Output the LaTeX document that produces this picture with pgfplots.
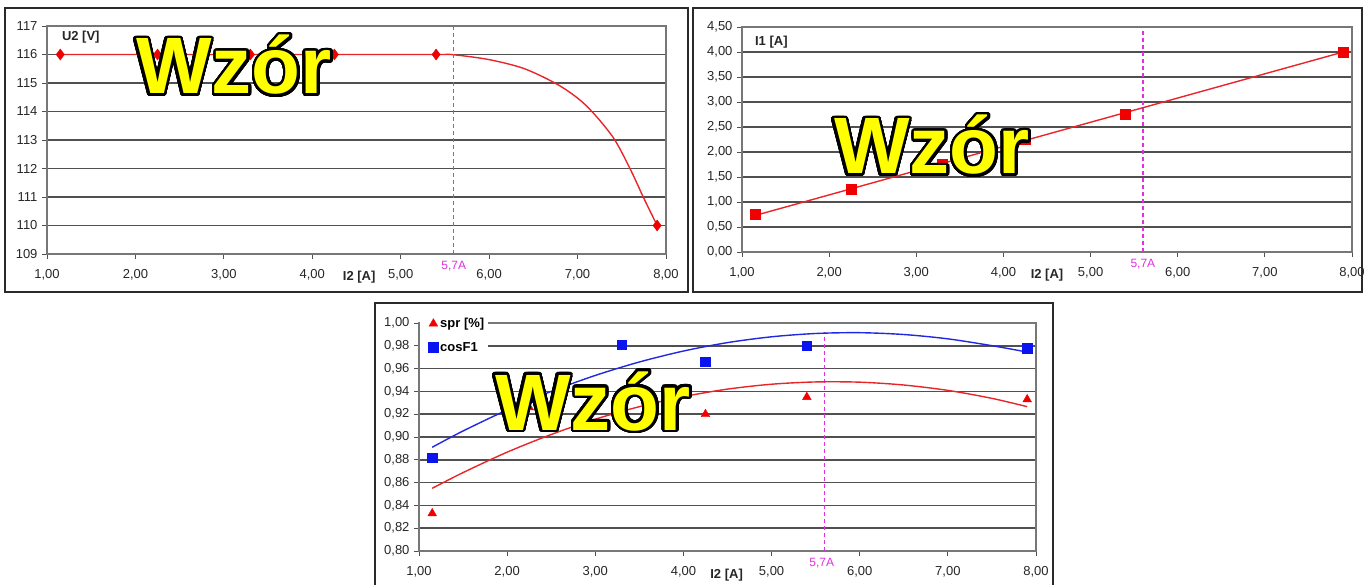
\documentclass[border=0pt]{standalone}
\usepackage{fontspec}
\setmainfont{Liberation Sans}
\usepackage{pgfplots}
\pgfplotsset{compat=1.18}
\usepackage{contour}
\contourlength{2.7pt}
\contournumber{48}
\definecolor{gridc}{HTML}{505050}
\definecolor{axc}{HTML}{777777}
\definecolor{lred}{HTML}{E8262A}
\definecolor{mred}{HTML}{F00000}
\definecolor{mblue}{HTML}{0A14F0}
\definecolor{lblue}{HTML}{2028E0}
\definecolor{mag}{HTML}{E030E0}
\definecolor{wz}{HTML}{FFFF00}
\definecolor{fr}{HTML}{2A2A2A}
\newcommand{\wzor}{{\fontsize{80}{80}\selectfont\bfseries\contour{black}{\textcolor{wz}{Wzór}}}}
\tikzset{
  lab/.style={font=\fontsize{13}{15}\selectfont\bfseries, text=black!85},
  mk/.style={font=\fontsize{12}{14}\selectfont, text=mag},
}
\pgfplotsset{
  mystyle/.style={
    scale only axis, clip=false,
    xmin=1, xmax=8,
    axis line style={draw=axc, line width=1.1pt},
    ymajorgrids, grid style={draw=gridc, line width=1.6pt},
    tick align=outside, xtick pos=bottom, ytick pos=left,
    major tick length=5pt,
    tick style={draw=gridc, line width=0.9pt},
    ticklabel style={font=\fontsize{13}{15}\selectfont, text=black!85},
    xtick={1,2,3,4,5,6,7,8},
    xticklabels={{1,00},{2,00},{3,00},{4,00},{5,00},{6,00},{7,00},{8,00}},
    xticklabel style={yshift=-7pt},
    yticklabel style={xshift=-1pt},
  },
  vline/.style={forget plot, draw=mag, color=mag, line width=1.4pt, dash pattern=on 4pt off 3pt},
}
\begin{document}
\begin{tikzpicture}[x=1pt,y=1pt]
\useasboundingbox (0,0) rectangle (1367,584);
% ---------- chart 1 ----------
\begin{axis}[mystyle, at={(47pt,330pt)}, anchor=south west,
  width=619pt, height=228pt,
  ymin=109, ymax=117, ytick={109,110,111,112,113,114,115,116,117},
  yticklabels={109,110,111,112,113,114,115,116,117}]
\addplot[draw=lred, line width=1.4pt, smooth] coordinates {
 (1.15,116)(2.25,116)(3.3,116)(4.25,116)(5.4,116)(5.6,115.99)(6.0,115.82)(6.4,115.5)
 (6.8,114.9)(7.1,114.2)(7.4,113.1)(7.6,111.95)(7.75,110.95)(7.9,110)};
\addplot[vline] coordinates {(5.6,109)(5.6,117)};
\addplot[only marks, mark=diamond*, mark size=5.5pt, mark options={draw=mred, fill=mred}] coordinates {
 (1.15,116)(2.25,116)(3.3,116)(4.25,116)(5.4,116)(7.9,110)};
\node[lab, anchor=west] at (axis cs:1.13,116.62) {U2 [V]};
\node[lab, anchor=base] at (axis cs:4.53,109) [yshift=-27pt] {I2 [A]};
\node[mk, anchor=north] at (axis cs:5.6,109) [yshift=-4pt] {5,7A};
\end{axis}
% ---------- chart 2 ----------
\begin{axis}[mystyle, at={(742pt,332pt)}, anchor=south west,
  width=610pt, height=225pt,
  ymin=0, ymax=4.5, ytick={0,0.5,1,1.5,2,2.5,3,3.5,4,4.5},
  yticklabels={{0,00},{0,50},{1,00},{1,50},{2,00},{2,50},{3,00},{3,50},{4,00},{4,50}}]
\addplot[vline] coordinates {(5.6,0)(5.6,4.5)};
\addplot[draw=lred, line width=1.4pt] coordinates {(1.15,0.73)(7.9,4.0)};
\addplot[only marks, mark=square*, mark size=5pt, mark options={draw=mred, fill=mred}] coordinates {
 (1.15,0.75)(2.25,1.25)(3.3,1.75)(4.25,2.25)(5.4,2.75)(7.9,4.0)};
\node[lab, anchor=west] at (axis cs:1.11,4.2) {I1 [A]};
\node[lab, anchor=base] at (axis cs:4.5,0) [yshift=-27pt] {I2 [A]};
\node[mk, anchor=north] at (axis cs:5.6,0) [yshift=-4pt] {5,7A};
\end{axis}
% ---------- chart 3 ----------
\begin{axis}[mystyle, at={(419pt,33pt)}, anchor=south west,
  width=617pt, height=228pt,
  ymin=0.8, ymax=1.0, ytick={0.8,0.82,0.84,0.86,0.88,0.9,0.92,0.94,0.96,0.98,1.0},
  yticklabels={{0,80},{0,82},{0,84},{0,86},{0,88},{0,90},{0,92},{0,94},{0,96},{0,98},{1,00}},
  legend style={at={(rel axis cs:0,1)}, anchor=north west, yshift=9pt, xshift=1pt,
    draw=none, fill=white, font=\fontsize{13}{15}\selectfont\bfseries,
    inner xsep=2pt, inner ysep=2pt, row sep=9pt, cells={anchor=west},
    /tikz/every even column/.append style={column sep=5pt}},
  legend image code/.code={\path (0pt,0pt); \draw[#1] plot coordinates {(11pt,0pt)};}]
\addplot[vline] coordinates {(5.6,0.8)(5.6,0.992)};
\addplot[forget plot, draw=lblue, line width=1.4pt, smooth] coordinates {
 (1.15,0.891)(1.5,0.9053)(2.0,0.9237)(2.5,0.940)(3.0,0.954)(3.5,0.9658)(4.0,0.9754)
 (4.5,0.9828)(5.0,0.9879)(5.5,0.9908)(6.0,0.9915)(6.5,0.9899)(7.0,0.9861)(7.5,0.9801)(7.9,0.9745)};
\addplot[forget plot, draw=lred, line width=1.4pt, smooth] coordinates {
 (1.15,0.855)(1.5,0.8688)(2.0,0.8867)(2.5,0.9022)(3.0,0.9156)(3.5,0.9266)(4.0,0.9354)
 (4.5,0.942)(5.0,0.9463)(5.5,0.9483)(6.0,0.9481)(6.5,0.9456)(7.0,0.9409)(7.5,0.9339)(7.9,0.9266)};
\addplot[only marks, mark=triangle*, mark size=5pt, mark options={draw=mred, fill=mred}] coordinates {
 (1.15,0.833)(2.25,0.926)(3.3,0.930)(4.25,0.920)(5.4,0.935)(7.9,0.933)};
\addlegendentry{spr [\%]}
\addplot[only marks, mark=square*, mark size=4.8pt, mark options={draw=mblue, fill=mblue}] coordinates {
 (1.15,0.882)(2.25,0.935)(3.3,0.981)(4.25,0.966)(5.4,0.980)(7.9,0.978)};
\addlegendentry{cosF1}
\node[lab, anchor=base] at (axis cs:4.49,0.8) [yshift=-27pt] {I2 [A]};
\node[mk, anchor=north] at (axis cs:5.57,0.8) [yshift=-4pt] {5,7A};
\end{axis}
% ---------- frames ----------
\draw[fr, line width=1.6pt] (5,292) rectangle (688,576);
\draw[fr, line width=1.6pt] (693,292) rectangle (1362,576);
\draw[fr, line width=1.6pt] (375,-10) rectangle (1053,281);
% ---------- watermarks ----------
\node[anchor=base west, inner sep=0pt] at (136,490) {\wzor};
\node[anchor=base west, inner sep=0pt] at (834,410) {\wzor};
\node[anchor=base west, inner sep=0pt] at (495,154) {\wzor};
\end{tikzpicture}
\end{document}
